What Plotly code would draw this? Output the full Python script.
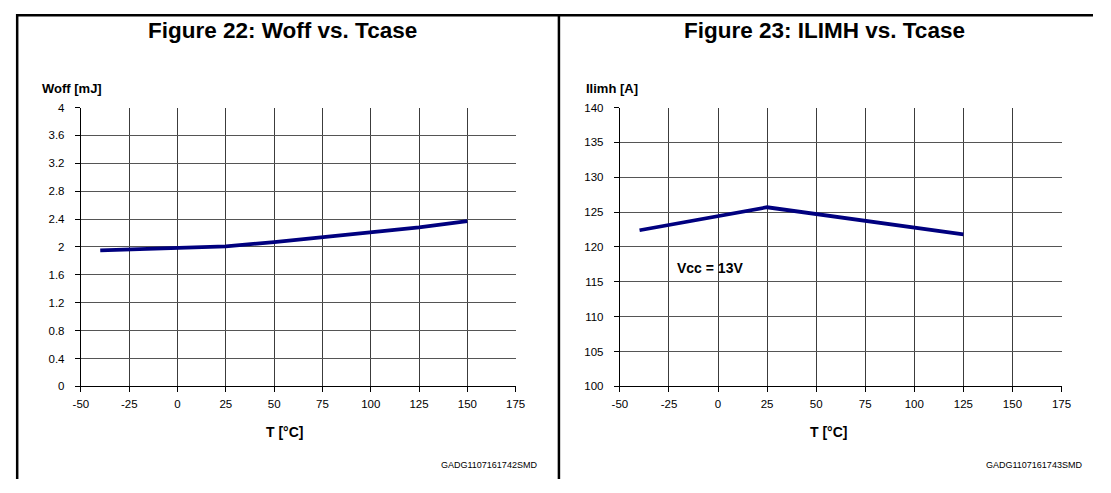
import plotly.graph_objects as go

# The page body keeps its default 8px margin, so the figure is drawn 8px in
# from the window corner; positions below are given in window pixels.
OFF = 8
FW, FH = 1111 - 2 * OFF, 493 - 2 * OFF

# ---- data ----
t_woff = [-40, 0, 25, 50, 75, 100, 125, 150]
woff = [1.95, 1.98, 2.01, 2.07, 2.14, 2.21, 2.28, 2.37]

t_ilim = [-40, 25, 125]
ilimh = [122.4, 125.7, 121.8]

x_ticks = [-50, -25, 0, 25, 50, 75, 100, 125, 150, 175]
x_labels = ["-50", "-25", "0", "25", "50", "75", "100", "125", "150", "175"]
y1_ticks = [0, 0.4, 0.8, 1.2, 1.6, 2, 2.4, 2.8, 3.2, 3.6, 4]
y1_labels = ["0", "0.4", "0.8", "1.2", "1.6", "2", "2.4", "2.8", "3.2", "3.6", "4"]
y2_ticks = [100, 105, 110, 115, 120, 125, 130, 135, 140]

FONT = "Liberation Sans, Arial, sans-serif"
LINE = "#00007f"


def px(x):
    return (x - OFF) / FW


def py(y):
    return 1 - (y - OFF) / FH


fig = go.Figure()
fig.add_trace(go.Scatter(x=t_woff, y=woff, mode="lines",
                         line=dict(color=LINE, width=3.8),
                         xaxis="x", yaxis="y", showlegend=False))
fig.add_trace(go.Scatter(x=t_ilim, y=ilimh, mode="lines",
                         line=dict(color=LINE, width=3.8),
                         xaxis="x2", yaxis="y2", showlegend=False))

axis_common = dict(showgrid=True, gridwidth=1,
                   showline=True, linecolor="black", linewidth=1.2,
                   ticks="outside", ticklen=5, tickcolor="black",
                   tickfont=dict(family=FONT, size=11.5, color="black"),
                   zeroline=False, fixedrange=True)
xgrid = "#3c3c3c"
ygrid = "#555555"

fig.update_layout(
    width=FW, height=FH,
    margin=dict(l=0, r=0, t=0, b=0),
    paper_bgcolor="white", plot_bgcolor="white",
    showlegend=False,
    xaxis=dict(domain=[px(74), px(516)], range=[-50, 175], tickvals=x_ticks,
               ticktext=x_labels, anchor="y", ticklabelstandoff=2,
               gridcolor=xgrid, **axis_common),
    yaxis=dict(domain=[py(390), py(104)], range=[0, 4], tickvals=y1_ticks,
               ticktext=y1_labels, anchor="x", ticklabelstandoff=8,
               gridcolor=ygrid, **axis_common),
    xaxis2=dict(domain=[px(622), px(1071)], range=[-50, 175], tickvals=x_ticks,
                ticktext=x_labels, anchor="y2", ticklabelstandoff=2,
                gridcolor=xgrid, **axis_common),
    yaxis2=dict(domain=[py(390), py(104)], range=[100, 140], tickvals=y2_ticks,
                anchor="x2", ticklabelstandoff=8, gridcolor=ygrid, **axis_common),
)

# frame lines
fig.add_shape(type="line", xref="paper", yref="paper", x0=0, x1=1, y0=py(9.2), y1=py(9.2),
              line=dict(color="black", width=2.5))
fig.add_shape(type="line", xref="paper", yref="paper", x0=px(9.2), x1=px(9.2), y0=py(8), y1=0,
              line=dict(color="black", width=2.5))
fig.add_shape(type="line", xref="paper", yref="paper", x0=px(560), x1=px(560), y0=py(8), y1=0,
              line=dict(color="black", width=2.5))


def text(x, y, s, size, bold=False, xanchor="center"):
    fig.add_annotation(x=px(x), y=py(y), xref="paper", yref="paper", text=s,
                       showarrow=False, xanchor=xanchor, yanchor="middle",
                       font=dict(family=FONT, size=size, color="black",
                                 weight="bold" if bold else "normal"))


text(279, 25, "Figure 22: Woff vs. Tcase", 22.5, bold=True)
text(830, 25, "Figure 23: ILIMH vs. Tcase", 22.5, bold=True)
text(32, 84, "Woff [mJ]", 13, bold=True, xanchor="left")
text(586, 84, "Ilimh [A]", 13, bold=True, xanchor="left")
text(281, 437, "T [°C]", 14, bold=True)
text(834, 437, "T [°C]", 14, bold=True)
text(540, 471, "GADG1107161742SMD", 9, xanchor="right")
text(1094, 471, "GADG1107161743SMD", 9, xanchor="right")

fig.add_annotation(x=-22, y=117, xref="x2", yref="y2", text="Vcc = 13V", showarrow=False,
                   xanchor="left", yanchor="middle",
                   font=dict(family=FONT, size=14, color="black", weight="bold"))

fig.write_html("out.html")
